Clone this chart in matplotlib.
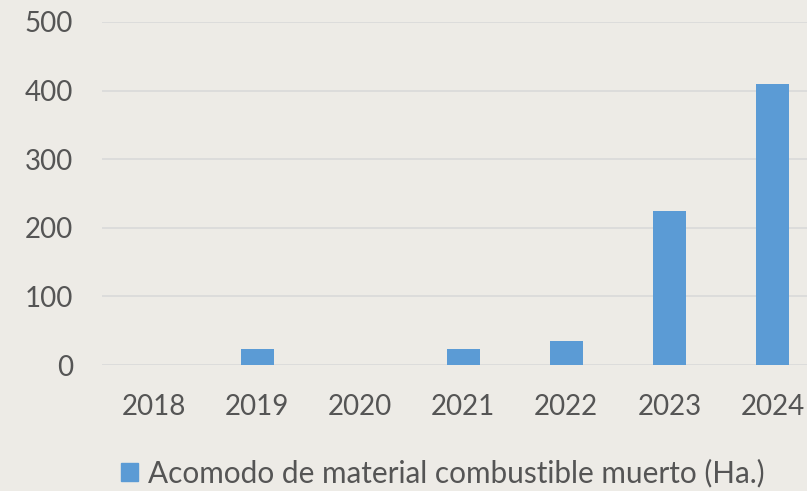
import matplotlib.pyplot as plt
from matplotlib.patches import Patch

years = ['2018', '2019', '2020', '2021', '2022', '2023', '2024']
hectareas = [0, 23, 0, 23, 35, 225, 410]
serie = 'Acomodo de material combustible muerto (Ha.)'

bg = '#edebe6'
txt = '#555555'
azul = '#5b9bd5'

plt.rcParams['font.family'] = ['Lato', 'DejaVu Sans']

fig = plt.figure(figsize=(8.07, 4.91), dpi=100, facecolor=bg)
# the chart runs past the right edge in the original, so the axes do too
ax = fig.add_axes([0.127, 0.2566, 0.894, 0.6986])
ax.set_facecolor(bg)

ax.bar(range(len(years)), hectareas, width=0.32, color=azul, zorder=3)

ax.set_xlim(-0.5, len(years) - 0.5)
ax.set_ylim(0, 500)
ax.set_yticks([0, 100, 200, 300, 400, 500])
ax.set_xticks(range(len(years)))
ax.set_xticklabels(years)

ax.grid(axis='y', color='#d9d9d9', linewidth=1.2, zorder=0)
for s in ax.spines.values():
    s.set_visible(False)
ax.tick_params(axis='both', length=0, labelsize=20, labelcolor=txt)
ax.tick_params(axis='x', pad=21)
ax.tick_params(axis='y', pad=21)

fig.legend(handles=[Patch(color=azul, label=serie)], loc='center',
           bbox_to_anchor=(443 / 807, 1 - 473 / 491), frameon=False,
           fontsize=21.4, labelcolor=txt, handlelength=0.56, handleheight=0.56,
           handletextpad=0.33, borderaxespad=0)

fig.savefig('out.png', dpi=100, facecolor=bg)
